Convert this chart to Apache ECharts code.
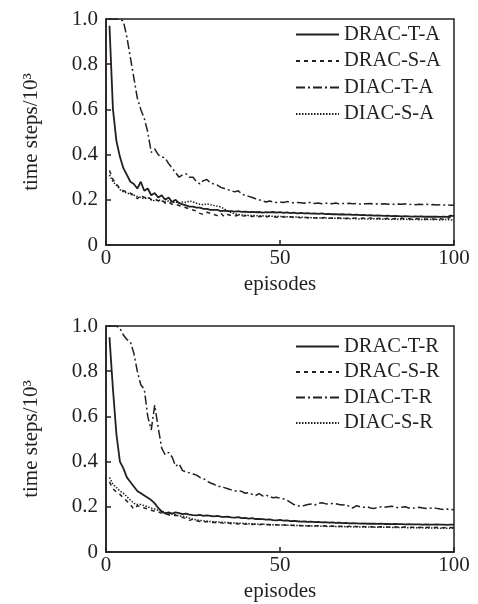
<!DOCTYPE html>
<html>
<head>
<meta charset="utf-8">
<script src="https://cdn.jsdelivr.net/npm/echarts@6/dist/echarts.min.js"></script>
<style>
html,body{margin:0;padding:0;background:#fff;}
#c{width:478px;height:604px;}
</style>
</head>
<body>
<div id="c"></div>
<script>
// ---------- data (episodes 1..100) ----------
const topNames = ['DRAC-T-A', 'DRAC-S-A', 'DIAC-T-A', 'DIAC-S-A'];
const botNames = ['DRAC-T-R', 'DRAC-S-R', 'DIAC-T-R', 'DIAC-S-R'];
const xTicks = [0, 50, 100];
const yTicks = ['0', '0.2', '0.4', '0.6', '0.8', '1.0'];

const dracTA = [0.97,0.60,0.46,0.39,0.34,0.31,0.28,0.27,0.25,0.28,
0.24,0.25,0.22,0.23,0.21,0.22,0.20,0.21,0.19,0.20,
0.185,0.18,0.175,0.17,0.17,0.165,0.165,0.16,0.16,0.155,
0.155,0.155,0.15,0.152,0.15,0.15,0.148,0.15,0.147,0.148,
0.145,0.147,0.145,0.146,0.143,0.145,0.144,0.146,0.143,0.145,
0.142,0.144,0.141,0.143,0.14,0.142,0.14,0.141,0.139,0.14,
0.138,0.14,0.137,0.138,0.136,0.137,0.135,0.136,0.134,0.135,
0.133,0.134,0.132,0.133,0.131,0.132,0.13,0.131,0.13,0.129,
0.13,0.128,0.129,0.128,0.127,0.128,0.127,0.126,0.127,0.126,
0.126,0.125,0.126,0.125,0.126,0.124,0.125,0.124,0.13,0.128];

const dracSA = [0.33,0.29,0.27,0.25,0.24,0.235,0.23,0.22,0.205,0.22,
0.21,0.215,0.2,0.205,0.195,0.2,0.185,0.19,0.18,0.18,
0.175,0.17,0.165,0.16,0.155,0.15,0.14,0.135,0.145,0.14,
0.135,0.13,0.14,0.125,0.135,0.13,0.128,0.132,0.127,0.13,
0.128,0.126,0.13,0.125,0.127,0.124,0.128,0.125,0.123,0.126,
0.124,0.122,0.125,0.121,0.123,0.12,0.124,0.121,0.122,0.12,
0.121,0.119,0.122,0.12,0.118,0.121,0.119,0.12,0.117,0.12,
0.118,0.12,0.117,0.119,0.116,0.12,0.118,0.117,0.119,0.116,
0.118,0.115,0.117,0.116,0.118,0.115,0.117,0.114,0.116,0.115,
0.117,0.114,0.116,0.115,0.113,0.116,0.114,0.115,0.125,0.118];

const diacTA = [1.0,1.0,1.0,1.0,0.99,0.92,0.83,0.74,0.65,0.60,
0.56,0.50,0.41,0.425,0.40,0.39,0.385,0.36,0.34,0.32,
0.30,0.31,0.315,0.30,0.30,0.28,0.27,0.285,0.29,0.275,
0.27,0.265,0.255,0.25,0.245,0.24,0.235,0.24,0.225,0.22,
0.215,0.21,0.205,0.2,0.195,0.19,0.195,0.19,0.188,0.19,
0.188,0.192,0.19,0.186,0.188,0.187,0.185,0.19,0.186,0.184,
0.186,0.183,0.185,0.184,0.183,0.186,0.182,0.184,0.183,0.185,
0.182,0.184,0.181,0.183,0.182,0.184,0.18,0.182,0.181,0.183,
0.18,0.182,0.179,0.181,0.18,0.182,0.179,0.18,0.178,0.18,
0.179,0.18,0.178,0.179,0.177,0.178,0.177,0.178,0.176,0.177];

const diacSA = [0.31,0.28,0.265,0.245,0.235,0.23,0.225,0.22,0.215,0.21,
0.205,0.21,0.2,0.195,0.2,0.195,0.19,0.195,0.188,0.19,
0.185,0.19,0.188,0.195,0.19,0.185,0.18,0.178,0.182,0.178,
0.175,0.172,0.168,0.16,0.15,0.143,0.138,0.135,0.133,0.132,
0.131,0.13,0.13,0.129,0.129,0.128,0.128,0.127,0.127,0.126,
0.126,0.125,0.125,0.124,0.124,0.123,0.122,0.121,0.121,0.12,
0.12,0.119,0.12,0.118,0.119,0.118,0.117,0.118,0.117,0.116,
0.117,0.116,0.115,0.116,0.115,0.114,0.116,0.115,0.114,0.115,
0.114,0.113,0.115,0.114,0.113,0.114,0.112,0.113,0.114,0.112,
0.113,0.112,0.114,0.112,0.113,0.111,0.112,0.113,0.111,0.112];

const dracTR = [0.95,0.72,0.52,0.40,0.37,0.33,0.31,0.29,0.27,0.26,
0.25,0.24,0.23,0.215,0.195,0.18,0.17,0.175,0.17,0.175,
0.172,0.168,0.17,0.165,0.163,0.162,0.164,0.16,0.162,0.16,
0.158,0.16,0.156,0.155,0.157,0.153,0.152,0.154,0.15,0.151,
0.148,0.15,0.146,0.147,0.145,0.143,0.144,0.141,0.14,0.142,
0.139,0.14,0.137,0.138,0.136,0.134,0.135,0.133,0.134,0.132,
0.133,0.131,0.132,0.13,0.131,0.129,0.13,0.128,0.129,0.127,
0.128,0.127,0.126,0.127,0.125,0.126,0.125,0.124,0.125,0.124,
0.124,0.123,0.124,0.123,0.123,0.122,0.123,0.122,0.122,0.122,
0.121,0.122,0.121,0.121,0.122,0.121,0.121,0.12,0.121,0.121];

const dracSR = [0.31,0.28,0.265,0.255,0.24,0.225,0.21,0.19,0.205,0.2,
0.195,0.19,0.185,0.18,0.178,0.172,0.17,0.165,0.16,0.163,
0.158,0.152,0.148,0.14,0.145,0.138,0.135,0.132,0.135,0.13,
0.132,0.128,0.13,0.126,0.129,0.125,0.127,0.124,0.126,0.123,
0.125,0.122,0.124,0.121,0.123,0.12,0.122,0.119,0.121,0.118,
0.12,0.118,0.119,0.117,0.118,0.116,0.118,0.115,0.117,0.115,
0.116,0.114,0.116,0.113,0.115,0.112,0.114,0.113,0.112,0.114,
0.112,0.113,0.111,0.113,0.11,0.112,0.111,0.11,0.112,0.11,
0.111,0.109,0.111,0.11,0.109,0.111,0.108,0.11,0.109,0.108,
0.11,0.108,0.109,0.107,0.109,0.108,0.107,0.109,0.108,0.107];

const diacTR = [1.0,1.0,1.0,0.99,0.96,0.94,0.93,0.88,0.80,0.74,
0.72,0.60,0.54,0.65,0.55,0.46,0.43,0.44,0.42,0.38,
0.39,0.36,0.355,0.35,0.345,0.34,0.33,0.325,0.315,0.305,
0.30,0.29,0.29,0.285,0.28,0.275,0.27,0.272,0.268,0.26,
0.262,0.255,0.25,0.258,0.248,0.252,0.245,0.24,0.242,0.238,
0.235,0.23,0.22,0.21,0.205,0.202,0.206,0.21,0.212,0.208,
0.215,0.218,0.214,0.212,0.215,0.214,0.21,0.208,0.21,0.2,
0.195,0.205,0.2,0.198,0.2,0.195,0.193,0.196,0.2,0.198,
0.2,0.202,0.2,0.195,0.198,0.2,0.195,0.193,0.196,0.198,
0.195,0.192,0.194,0.196,0.193,0.19,0.188,0.19,0.188,0.187];

const diacSR = [0.33,0.30,0.285,0.27,0.26,0.245,0.23,0.215,0.21,0.21,
0.205,0.2,0.195,0.19,0.185,0.18,0.175,0.17,0.168,0.165,
0.16,0.158,0.155,0.15,0.145,0.142,0.14,0.138,0.136,0.135,
0.134,0.133,0.132,0.131,0.13,0.129,0.128,0.128,0.127,0.126,
0.125,0.125,0.124,0.123,0.123,0.122,0.121,0.121,0.12,0.12,
0.119,0.119,0.118,0.118,0.117,0.117,0.116,0.116,0.115,0.115,
0.115,0.114,0.114,0.113,0.114,0.113,0.112,0.113,0.112,0.112,
0.111,0.112,0.111,0.111,0.11,0.111,0.11,0.11,0.109,0.11,
0.109,0.109,0.108,0.109,0.108,0.108,0.107,0.108,0.107,0.107,
0.107,0.106,0.107,0.106,0.106,0.105,0.106,0.105,0.105,0.105];

// ---------- chart ----------
const FONT = '"Liberation Serif", "DejaVu Serif", serif';
const INK = '#231f20';
const styles = [
  {type: 'solid', width: 1.8},
  {type: [4, 4], width: 1.5},
  {type: [9, 3, 2, 3], width: 1.5},
  {type: [1.5, 1.5], width: 1.5}
];

function toPairs(arr) { return arr.map((v, i) => [i + 1, v]); }

const grids = [
  {left: 106, top: 19, width: 348, height: 226, show: true, borderColor: INK, borderWidth: 1.5},
  {left: 106, top: 326, width: 348, height: 226, show: true, borderColor: INK, borderWidth: 1.5}
];

function xAx(gi) {
  return {
    type: 'value', gridIndex: gi, min: xTicks[0], max: xTicks[xTicks.length - 1],
    interval: xTicks[1] - xTicks[0],
    name: 'episodes', nameLocation: 'middle', nameGap: 29,
    nameTextStyle: {fontFamily: FONT, fontSize: 21, color: INK},
    axisLine: {lineStyle: {color: INK, width: 1.5}},
    axisTick: {inside: true, length: 5, lineStyle: {color: INK, width: 1.5}},
    axisLabel: {fontFamily: FONT, fontSize: 21, color: INK, margin: 3},
    splitLine: {show: false}
  };
}
function yAx(gi) {
  return {
    type: 'value', gridIndex: gi, min: 0, max: 1, interval: 0.2,
    name: 'time steps/10³', nameLocation: 'middle', nameGap: 64,
    nameTextStyle: {fontFamily: FONT, fontSize: 21, color: INK},
    axisLine: {lineStyle: {color: INK, width: 1.5}},
    axisTick: {inside: true, length: 5, lineStyle: {color: INK, width: 1.5}},
    axisLabel: {fontFamily: FONT, fontSize: 21, color: INK, margin: 8,
      formatter: v => yTicks[Math.round(v / 0.2)]},
    splitLine: {show: false}
  };
}

const topData = [dracTA, dracSA, diacTA, diacSA];
const botData = [dracTR, dracSR, diacTR, diacSR];
const series = [];
[topData, botData].forEach((set, gi) => {
  const names = gi === 0 ? topNames : botNames;
  set.forEach((arr, k) => {
    series.push({
      type: 'line', name: names[k], xAxisIndex: gi, yAxisIndex: gi,
      data: toPairs(arr), showSymbol: false, symbol: 'none', smooth: false,
      lineStyle: Object.assign({color: INK}, styles[k]),
      itemStyle: {color: INK},
      emphasis: {disabled: true}, animation: false, clip: true
    });
  });
});

function legend(names, top, gap) {
  return {
    data: names, orient: 'vertical', left: 295, top: top,
    itemWidth: 43, itemHeight: 10, itemGap: gap, padding: 0,
    itemStyle: {opacity: 0},
    textStyle: {fontFamily: FONT, fontSize: 20.5, color: INK},
    selectedMode: false
  };
}

const chart = echarts.init(document.getElementById('c'), null, {renderer: 'canvas'});
chart.setOption({
  backgroundColor: '#fff',
  animation: false,
  grid: grids,
  xAxis: [xAx(0), xAx(1)],
  yAxis: [yAx(0), yAx(1)],
  legend: [legend(topNames, 24, 5.5), legend(botNames, 336, 4.5)],
  series: series
});
</script>
</body>
</html>
